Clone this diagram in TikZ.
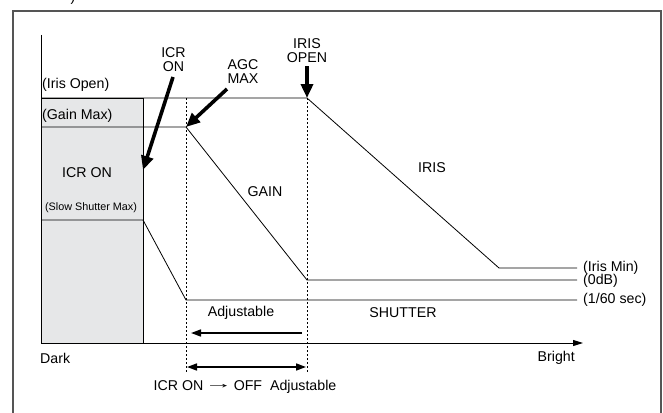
\documentclass[tikz,border=0pt]{standalone}
\usepackage{fontspec}
\setmainfont{Liberation Sans}
\usetikzlibrary{arrows.meta}
\definecolor{boxgray}{HTML}{E6E7E8}
\definecolor{framegray}{HTML}{555555}
\begin{document}
\begin{tikzpicture}[x=1pt,y=-1pt,
  lbl/.style={font=\fontsize{14.2}{14}\selectfont, inner sep=0pt, align=center},
  smalllbl/.style={font=\fontsize{10.8}{11}\selectfont, inner sep=0pt},
  curve/.style={line width=0.8pt},
  guide/.style={line width=0.7pt, dash pattern=on 2pt off 2pt},
  bigarrow/.style={line width=3.6pt, -{Triangle[length=14pt,width=12pt]}},
  adjarrow/.style={line width=1.6pt, -{Triangle[length=10pt,width=7pt]}},
  dblarrow/.style={line width=1.6pt, {Triangle[length=10pt,width=7pt]}-{Triangle[length=10pt,width=7pt]}},
  axisarrow/.style={line width=0.9pt, -{Triangle[length=10pt,width=6pt]}}]
\useasboundingbox (0,0) rectangle (663,412);
\clip (0,0) rectangle (663,412);

% cut-off fragment at the top
\node[lbl, anchor=south] (frag) at (73,5) {)};

% frame
\draw[framegray, line width=1.4pt] (13,420) -- (13,11) -- (661,11) -- (661,420);

% gray box
\filldraw[fill=boxgray, draw=black, line width=0.9pt] (41,98) rectangle (143,343);

% coordinates
\coordinate (ytop) at (41,35);
\coordinate (orig) at (41,343);
\coordinate (xend) at (583,343);
\coordinate (irisopen) at (307,98);
\coordinate (agcmax) at (186,127);
\coordinate (slowmax) at (143,220);
\coordinate (shutknee) at (186,300);
\coordinate (gainknee) at (307,280);
\coordinate (irisknee) at (499,268);
\coordinate (irismin) at (577,268);
\coordinate (zerodb) at (577,280);
\coordinate (sixty) at (577,300);

% axes
\draw[line width=0.9pt] (ytop) -- (orig);
\draw[axisarrow] (orig) -- (xend);

% dashed guides
\draw[guide] (186,98) -- (186,372);
\draw[guide] (307,98) -- (307,372);

% curves
\draw[curve] (41,98) -- (irisopen) -- (irisknee) -- (irismin);
\draw[curve] (41,127) -- (agcmax) -- (gainknee) -- (zerodb);
\draw[curve] (41,220) -- (slowmax) -- (shutknee) -- (sixty);

% labels
\node[lbl, anchor=west] (lirisopen) at (42,85) {(Iris Open)};
\node[lbl, anchor=west] (lgainmax) at (42,116) {(Gain Max)};
\node[lbl] (licron) at (87,173) {ICR ON};
\node[smalllbl] (lslow) at (91,208) {(Slow Shutter Max)};
\node[lbl] (ticr) at (173.5,60) {ICR\\ON};
\node[lbl] (tagc) at (243,72) {AGC\\MAX};
\node[lbl] (tiris) at (307,51) {IRIS\\OPEN};
\node[lbl] (lgain) at (265,192) {GAIN};
\node[lbl] (liris) at (432,168) {IRIS};
\node[lbl, anchor=west] (lirismin) at (583,268) {(Iris Min)};
\node[lbl, anchor=west] (l0db) at (583,281) {(0dB)};
\node[lbl, anchor=west] (l60) at (583,300) {(1/60 sec)};
\node[lbl] (lshutter) at (403,313) {SHUTTER};
\node[lbl] (ladj) at (241,313) {Adjustable};
\node[lbl, anchor=west] (ldark) at (40,358) {Dark};
\node[lbl, anchor=east] (lbright) at (575,358) {Bright};
\node[lbl] (licroff) at (245,387) {ICR ON\hspace{1pt}\raisebox{2pt}{\scalebox{2}[1]{→}}\hspace{1pt}OFF\ \ Adjustable};

% pointer arrows
\coordinate (icrtail) at (173,77);
\coordinate (icrtip) at (143,170);
\draw[bigarrow] (icrtail) -- (icrtip);
\coordinate (agctail) at (227,89);
\draw[bigarrow] (agctail) -- (agcmax);
\coordinate (iristail) at (307,66);
\draw[bigarrow] (iristail) -- (irisopen);

% adjustable arrows
\coordinate (adjr) at (302,333);
\coordinate (adjl) at (191,333);
\draw[adjarrow] (adjr) -- (adjl);
\coordinate (dbll) at (187,367);
\coordinate (dblr) at (306,367);
\draw[dblarrow] (dbll) -- (dblr);
\end{tikzpicture}
\end{document}
